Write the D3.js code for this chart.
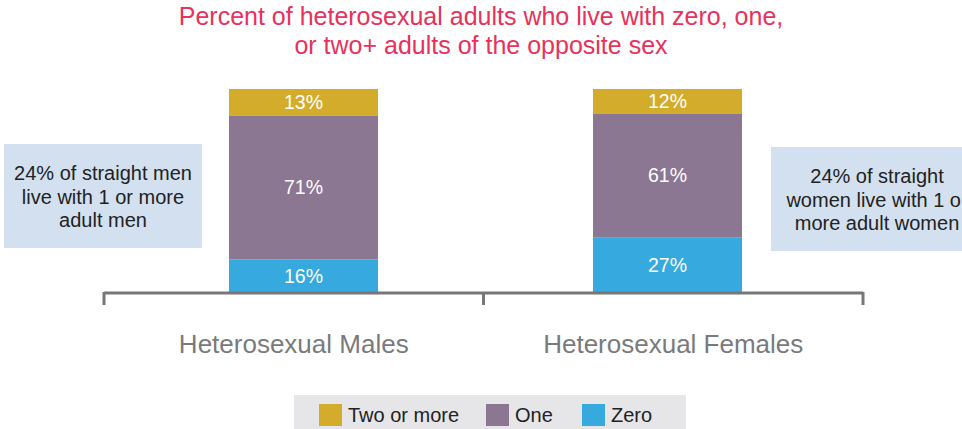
<!DOCTYPE html>
<html>
<head>
<meta charset="utf-8">
<script src="https://cdn.jsdelivr.net/npm/d3@7"></script>
<style>
  body { margin: 0; background: #fff; }
  svg { display: block; font-family: "Liberation Sans", Arial, sans-serif; }
</style>
</head>
<body>
<div id="chart"></div>
<script>
var groups = ["Heterosexual Males", "Heterosexual Females"];
var seriesKeys = ["Zero", "One", "Two or more"];
var zeroVals = [16, 27];
var oneVals = [71, 61];
var twoVals = [13, 12];
var legendKeys = ["Two or more", "One", "Zero"];
var notes = [
  ["24% of straight men", "live with 1 or more", "adult men"],
  ["24% of straight", "women live with 1 or", "more adult women"]
];
var titleLines = ["Percent of heterosexual adults who live with zero, one,", "or two+ adults of the opposite sex"];

var colors = { "Zero": "#36a9df", "One": "#8c7793", "Two or more": "#d4ac2b" };

var width = 962, height = 429;

var svg = d3.select("#chart").append("svg")
  .attr("width", width)
  .attr("height", height);

var rows = groups.map(function(g, i) {
  return { group: g, "Zero": zeroVals[i], "One": oneVals[i], "Two or more": twoVals[i] };
});
var stacked = d3.stack().keys(seriesKeys)(rows);

// bars
var x = d3.scaleBand().domain(groups).range([229, 742]).paddingInner(0.5907).paddingOuter(0);
var y = d3.scaleLinear().domain([0, 100]).range([292, 89]);
// axis bracket
var xAxisScale = d3.scaleBand().domain(groups).range([104, 863]);

// title
svg.append("g").selectAll("text")
  .data(titleLines)
  .enter().append("text")
  .attr("x", 481)
  .attr("y", function(d, i) { return 25 + i * 29; })
  .attr("text-anchor", "middle")
  .attr("fill", "#e8315b")
  .attr("font-size", "25px")
  .text(function(d) { return d; });

var layer = svg.append("g").selectAll("g")
  .data(stacked)
  .enter().append("g")
  .attr("fill", function(d) { return colors[d.key]; });

layer.selectAll("rect")
  .data(function(d) { return d; })
  .enter().append("rect")
  .attr("x", function(d) { return x(d.data.group); })
  .attr("y", function(d) { return y(d[1]); })
  .attr("width", x.bandwidth())
  .attr("height", function(d) { return y(d[0]) - y(d[1]); });

layer.selectAll("text")
  .data(function(d) { return d; })
  .enter().append("text")
  .attr("x", function(d) { return x(d.data.group) + x.bandwidth() / 2; })
  .attr("y", function(d) { return (y(d[0]) + y(d[1])) / 2; })
  .attr("dy", "0.36em")
  .attr("text-anchor", "middle")
  .attr("fill", "#fff")
  .attr("font-size", "19.5px")
  .text(function(d) { return (d[1] - d[0]) + "%"; });

// axis
var axisColor = "#77777a";
var ax = svg.append("g");
ax.append("line")
  .attr("x1", xAxisScale.range()[0]).attr("x2", xAxisScale.range()[1])
  .attr("y1", 293).attr("y2", 293)
  .attr("stroke", axisColor).attr("stroke-width", 3);
var tickPos = groups.map(function(g) { return xAxisScale(g); }).concat([xAxisScale.range()[1]]);
ax.selectAll(".tick")
  .data(tickPos)
  .enter().append("line")
  .attr("class", "tick")
  .attr("x1", function(d) { return d; }).attr("x2", function(d) { return d; })
  .attr("y1", 292).attr("y2", 305)
  .attr("stroke", axisColor).attr("stroke-width", 3);

ax.selectAll(".cat")
  .data(groups)
  .enter().append("text")
  .attr("class", "cat")
  .attr("x", function(d) { return xAxisScale(d) + xAxisScale.bandwidth() / 2; })
  .attr("y", 353)
  .attr("text-anchor", "middle")
  .attr("fill", "#7a7a7c")
  .attr("font-size", "26px")
  .attr("font-weight", 300)
  .text(function(d) { return d; });

// annotation boxes
var boxes = [{ x: 4, y: 144, w: 198, h: 104 }, { x: 771, y: 147, w: 212, h: 104 }];
var note = svg.append("g").selectAll("g")
  .data(notes)
  .enter().append("g");
note.append("rect")
  .attr("x", function(d, i) { return boxes[i].x; })
  .attr("y", function(d, i) { return boxes[i].y; })
  .attr("width", function(d, i) { return boxes[i].w; })
  .attr("height", function(d, i) { return boxes[i].h; })
  .attr("fill", "#d3e0ef");
note.each(function(lines, i) {
  var b = boxes[i];
  d3.select(this).selectAll("text")
    .data(lines)
    .enter().append("text")
    .attr("x", b.x + b.w / 2)
    .attr("y", function(d, j) { return b.y + 29 + j * 23.5; })
    .attr("dy", "0.36em")
    .attr("text-anchor", "middle")
    .attr("fill", "#222")
    .attr("font-size", "20px")
    .text(function(d) { return d; });
});

// legend
var legend = svg.append("g");
legend.append("rect")
  .attr("x", 294).attr("y", 395).attr("width", 392).attr("height", 40)
  .attr("fill", "#e6e6e8");
var legendX = [319, 486, 582];
var item = legend.selectAll(".item")
  .data(legendKeys)
  .enter().append("g")
  .attr("class", "item")
  .attr("transform", function(d, i) { return "translate(" + legendX[i] + ",404)"; });
item.append("rect")
  .attr("width", 23).attr("height", 22)
  .attr("fill", function(d) { return colors[d]; });
item.append("text")
  .attr("x", 29).attr("y", 11)
  .attr("dy", "0.36em")
  .attr("fill", "#222")
  .attr("font-size", "20px")
  .text(function(d) { return d; });
</script>
</body>
</html>
